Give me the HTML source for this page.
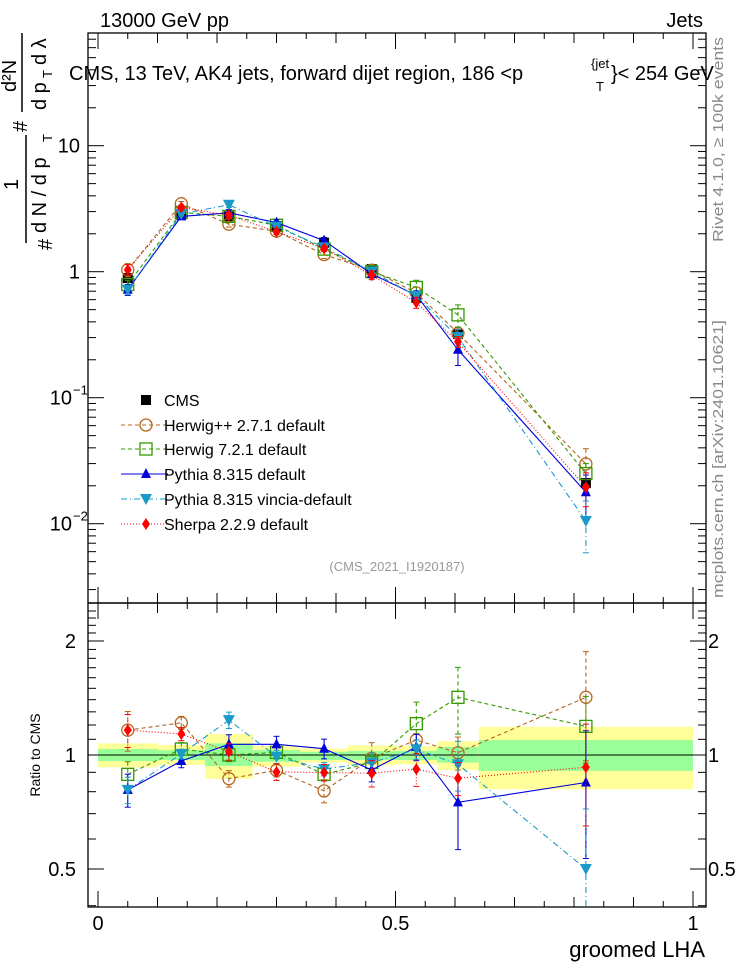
<!DOCTYPE html>
<html><head><meta charset="utf-8"><style>
html,body{margin:0;padding:0;background:#fff}
svg{display:block;font-family:"Liberation Sans",sans-serif}
</style></head><body>
<svg id="chart" width="746" height="972" viewBox="0 0 746 972" xmlns="http://www.w3.org/2000/svg">
<defs><clipPath id="rclip"><rect x="88" y="603" width="618" height="304"/></clipPath><clipPath id="mclip"><rect x="88" y="33" width="618" height="570"/></clipPath></defs>
<text x="100" y="27" font-size="20">13000 GeV pp</text>
<text x="703" y="27" font-size="20" text-anchor="end">Jets</text>
<g font-size="20">
<text x="69" y="80">CMS, 13 TeV, AK4 jets, forward dijet region, 186 &lt;p</text>
<text x="591" y="68" font-size="13">{jet</text>
<text x="596" y="91" font-size="13">T</text>
<text x="611" y="80">}&lt; 254 GeV</text>
</g>
<g transform="rotate(-90)" font-size="20">
<text x="-250" y="52">#</text>
<text x="-190" y="18">1</text>
<line x1="-243" y1="26" x2="-135" y2="26" stroke="#000" stroke-width="1.5"/>
<text x="-233" y="46">d N / d p</text>
<text x="-142" y="52" font-size="13">T</text>
<text x="-132" y="27">#</text>
<text x="-92" y="16">d²N</text>
<line x1="-112" y1="22" x2="-33" y2="22" stroke="#000" stroke-width="1.5"/>
<text x="-110" y="46">d p</text>
<text x="-78" y="52" font-size="13">T</text>
<text x="-65" y="46">d λ</text>
</g>
<text transform="translate(723,242) rotate(-90)" font-size="15" fill="#888" textLength="205" lengthAdjust="spacingAndGlyphs">Rivet 4.1.0, ≥ 100k events</text>
<text transform="translate(723,598) rotate(-90)" font-size="15" fill="#888" textLength="278" lengthAdjust="spacingAndGlyphs">mcplots.cern.ch [arXiv:2401.10621]</text>
<text x="397" y="571" font-size="13" fill="#999" text-anchor="middle">(CMS_2021_I1920187)</text>
<text transform="translate(40,755) rotate(-90)" font-size="14" text-anchor="middle">Ratio to CMS</text>
<text x="705" y="957" font-size="22" text-anchor="end">groomed LHA</text>
<g id="bands"></g>
<g id="axes"></g>
<g id="series"></g>
<g id="legend"></g>
</svg>
<script>
const xCenters = [0.05,0.14,0.22,0.30,0.38,0.46,0.535,0.605,0.82];
const binEdges = [0,0.1,0.18,0.26,0.34,0.42,0.5,0.57,0.64,1.0];
const cmsValues = [0.89,2.85,2.75,2.3,1.7,1.05,0.62,0.32,0.021];
const bandYellowUp = [1.073,1.062,1.136,1.058,1.04,1.06,1.055,1.088,1.187];
const bandYellowDn = [0.928,0.941,0.865,0.932,0.955,0.94,0.945,0.913,0.812];
const bandGreenUp = [1.037,1.03,1.073,1.03,1.02,1.025,1.025,1.05,1.095];
const bandGreenDn = [0.964,0.97,0.935,0.96,0.97,0.97,0.97,0.955,0.908];
const herwigppRatio = [1.163,1.216,0.866,0.911,0.804,0.98,1.095,1.014,1.42];
const herwigppErr = [0.12,0.04,0.05,0.04,0.07,0.1,0.04,0.1,0.32];
const herwig7Ratio = [0.889,1.037,1.0,1.016,0.889,0.955,1.21,1.42,1.19];
const herwig7Err = [0.08,0.04,0.04,0.04,0.04,0.05,0.14,0.2,0.2];
const pythiaRatio = [0.809,0.964,1.067,1.067,1.039,0.913,1.05,0.75,0.846];
const pythiaErr = [0.1,0.04,0.06,0.05,0.06,0.07,0.08,0.25,0.37];
const vinciaRatio = [0.809,1.006,1.236,0.99,0.918,0.955,1.035,0.945,0.50];
const vinciaErr = [0.08,0.03,0.05,0.04,0.04,0.06,0.06,0.15,0.44];
const sherpaRatio = [1.163,1.136,1.02,0.902,0.899,0.895,0.918,0.868,0.928];
const sherpaErr = [0.1,0.04,0.05,0.05,0.05,0.08,0.1,0.1,0.3];
const mainTickLabels = ["10","1","10","10"];
const xTickLabels = ["0","0.5","1"];

const NS="http://www.w3.org/2000/svg";
const FL=88, FR=706, MT=33, MB=603, RT=603, RB=907;
function X(v){return 98+v*595;}
function YM(v){return 271.7-126*Math.log10(v);}
function YR(v){return 755-114*Math.log2(v);}
function mk(tag,attrs,parent){const e=document.createElementNS(NS,tag);for(const k in attrs)e.setAttribute(k,attrs[k]);parent.appendChild(e);return e;}
const axes=document.getElementById('axes'), bands=document.getElementById('bands'), series=document.getElementById('series'), legend=document.getElementById('legend');

for(let i=0;i<cmsValues.length;i++){
  let r=mk('rect',{x:X(binEdges[i]),y:YR(bandYellowUp[i]),width:X(binEdges[i+1])-X(binEdges[i]),height:YR(bandYellowDn[i])-YR(bandYellowUp[i]),fill:'#ffff99'},bands);
  
  
  let g=mk('rect',{x:X(binEdges[i]),y:YR(bandGreenUp[i]),width:X(binEdges[i+1])-X(binEdges[i]),height:YR(bandGreenDn[i])-YR(bandGreenUp[i]),fill:'#99ff99'},bands);
  
  
}
let one=mk('line',{x1:X(0),x2:X(1),y1:YR(1),y2:YR(1),stroke:'#000','stroke-width':1},bands);



for(const [t,b,nm] of [[MT,MB,'main-frame'],[RT,RB,'ratio-frame']]){
  let f=mk('rect',{x:FL,y:t,width:FR-FL,height:b-t,fill:'none',stroke:'#000','stroke-width':1.3},axes);
  
  
}
function xticks(t,b){
  for(let k=0;k<=20;k++){const v=k*0.05, x=X(v);
    const L=(k%10==0)?16:(k%2==0)?10:6;
    mk('line',{x1:x,x2:x,y1:b,y2:b-L,stroke:'#000'},axes);
    mk('line',{x1:x,x2:x,y1:t,y2:t+L,stroke:'#000'},axes);}
}
xticks(MT,MB); xticks(RT,RB);
xTickLabels.forEach((s,i)=>{let t=mk('text',{x:X(i*0.5),y:930,'font-size':20,'text-anchor':'middle'},axes);t.textContent=s;

});
for(let d=-3;d<=1;d++){for(let m=1;m<=9;m++){const v=m*Math.pow(10,d), y=YM(v); if(y<MT||y>MB)continue;
  const L=m==1?16:8; mk('line',{x1:FL,x2:FL+L,y1:y,y2:y,stroke:'#000'},axes); mk('line',{x1:FR,x2:FR-L,y1:y,y2:y,stroke:'#000'},axes);}}
[[10,"10",""],[1,"1",""],[0.1,"10","−1"],[0.01,"10","−2"]].forEach(([v,b,e],i)=>{
  let t=mk('text',{x:e?72:80,y:YM(v)+7,'font-size':20,'text-anchor':'end'},axes);t.textContent=mainTickLabels[i];
  
  
  if(e){let s=mk('text',{x:73,y:YM(v)-3,'font-size':13},axes);s.textContent=e;}
});
for(let k=4;k<=24;k++){const v=k/10, y=YR(v); if(y<RT||y>RB)continue; const L=(k==5||k==10||k==20)?16:8;
  mk('line',{x1:FL,x2:FL+L,y1:y,y2:y,stroke:'#000'},axes); mk('line',{x1:FR,x2:FR-L,y1:y,y2:y,stroke:'#000'},axes);}
[[2,"2"],[1,"1"],[0.5,"0.5"]].forEach(([v,s])=>{
  let t=mk('text',{x:76,y:YR(v)+7,'font-size':20,'text-anchor':'end'},axes);t.textContent=s;
  
  
  let t2=mk('text',{x:708,y:YR(v)+7,'font-size':20},axes);t2.textContent=s;
  
  
});

function marker(kind,color,x,y,parent){
  if(kind=='sq') return mk('rect',{x:x-5,y:y-5,width:10,height:10,fill:'#000'},parent);
  if(kind=='circ') return mk('circle',{cx:x,cy:y,r:6,fill:'none',stroke:color,'stroke-width':1.3},parent);
  if(kind=='osq') return mk('rect',{x:x-6,y:y-6,width:12,height:12,fill:'none',stroke:color,'stroke-width':1.3},parent);
  if(kind=='up') return mk('polygon',{points:`${x},${y-6} ${x-5},${y+4} ${x+5},${y+4}`,fill:color},parent);
  if(kind=='dn') return mk('polygon',{points:`${x-6},${y-5} ${x+6},${y-5} ${x},${y+6}`,fill:color},parent);
  if(kind=='dia') return mk('polygon',{points:`${x},${y-6} ${x+4},${y} ${x},${y+6} ${x-4},${y}`,fill:color},parent);
}
const defs=[
 ['herwigpp','Herwig++ 2.7.1 default','#b5651d','4,3','circ',herwigppRatio,herwigppErr],
 ['herwig7','Herwig 7.2.1 default','#339900','4,3','osq',herwig7Ratio,herwig7Err],
 ['pythia','Pythia 8.315 default','#0000dd','','up',pythiaRatio,pythiaErr],
 ['vincia','Pythia 8.315 vincia-default','#1a9ac9','6,3,1,3','dn',vinciaRatio,vinciaErr],
 ['sherpa','Sherpa 2.2.9 default','#ff0000','1,2','dia',sherpaRatio,sherpaErr]];
function drawSeries(name,color,dash,kind,ratio,err){
  const g=mk('g',{},series);
  
  
  const mainPts=[], ratPts=[];
  ratio.forEach((r,i)=>{const v=r*cmsValues[i]; mainPts.push([X(xCenters[i]),YM(v)]); ratPts.push([X(xCenters[i]),YR(r)]);});
  for(const [pts,fy,vals,clip] of [[mainPts,YM,ratio.map((r,i)=>r*cmsValues[i]),'url(#mclip)'],[ratPts,YR,ratio,'url(#rclip)']]){
    const sg=mk('g',{'clip-path':clip},g);
    const pl=mk('polyline',{points:pts.map(p=>p.join(',')).join(' '),fill:'none',stroke:color,'stroke-width':1.1,'stroke-dasharray':dash},sg);
    
    
    vals.forEach((v,i)=>{const x=pts[i][0], y1=fy(v*(1+err[i])), y2=fy(v*(1-err[i]));
      mk('line',{x1:x,x2:x,y1:y1,y2:y2,stroke:color,'stroke-width':1.1,'stroke-dasharray':dash},sg);
      mk('line',{x1:x-3,x2:x+3,y1:y1,y2:y1,stroke:color},sg);mk('line',{x1:x-3,x2:x+3,y1:y2,y2:y2,stroke:color},sg);
      const m=marker(kind,color,x,pts[i][1],sg);
      
      });
  }
}
const cg=mk('g',{},series);


cmsValues.forEach((v,i)=>{const m=marker('sq','#000',X(xCenters[i]),YM(v),cg);
  
  });
defs.forEach(d=>drawSeries(d[0],d[2],d[3],d[4],d[5],d[6]));

const ly=[400,425,449,474,499,524];
let e0=mk('g',{},legend);


marker('sq','#000',146,ly[0],e0);
let t0=mk('text',{x:164,y:ly[0]+6,'font-size':16},e0);t0.textContent='CMS';
defs.forEach((d,i)=>{const y=ly[i+1];
  const g=mk('g',{},legend);
  
  
  mk('line',{x1:121,x2:168,y1:y,y2:y,stroke:d[2],'stroke-width':1.1,'stroke-dasharray':d[3]},g);
  marker(d[4],d[2],146,y,g);
  const t=mk('text',{x:164,y:y+6,'font-size':16},g);t.textContent=d[1];});
</script>
</body></html>
